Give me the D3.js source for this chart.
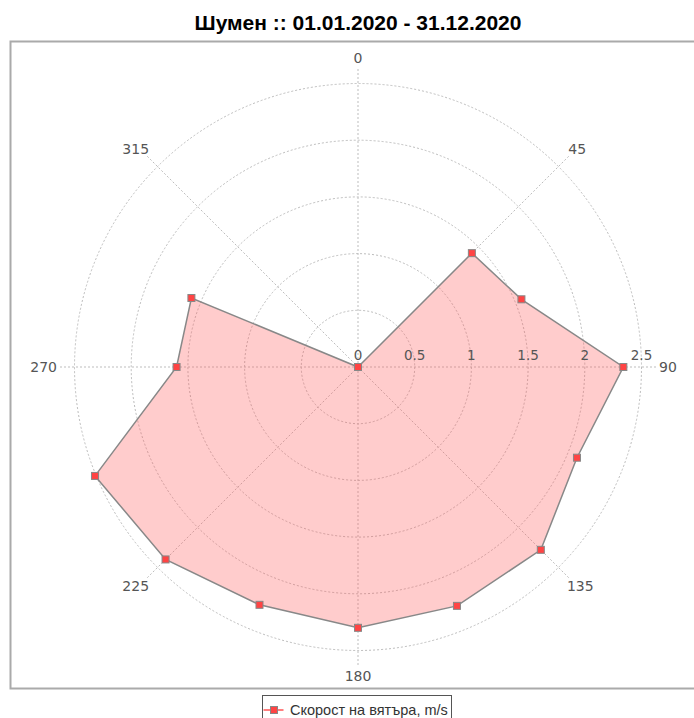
<!DOCTYPE html>
<html>
<head>
<meta charset="utf-8">
<script src="https://cdn.jsdelivr.net/npm/d3@7"></script>
<style>
  body { margin: 0; background: #fff; }
  svg { display: block; }
</style>
</head>
<body>
<svg id="rose" width="694" height="718"></svg>
<script>
// Wind speed by direction (polar plot)

let titleText = 'Шумен :: 01.01.2020 - 31.12.2020';
let seriesName = 'Скорост на вятъра, m/s';

// directions in degrees and average speed for each one
let directions = [0, 22.5, 45, 67.5, 90, 112.5, 135, 157.5, 180, 202.5, 225, 247.5, 270, 292.5, 315, 337.5];
let speeds = [0, 0, 1.42, 1.56, 2.34, 2.09, 2.28, 2.28, 2.30, 2.27, 2.40, 2.51, 1.60, 1.59, 0, 0];

let radialTicks = [0, 0.5, 1, 1.5, 2, 2.5];
let angleTicks = [0, 45, 90, 135, 180, 225, 270, 315];

let w = 694;
let h = 718;
let cx = 358, cy = 367;
let outerR = 283.5;
let spokeLen = 300;

let svg = d3.select('#rose');

// title
svg.append('text')
  .attr('x', 358)
  .attr('y', 30)
  .attr('text-anchor', 'middle')
  .style('font-family', '"Liberation Sans", Arial, sans-serif')
  .style('font-weight', 'bold')
  .style('font-size', '21px')
  .style('fill', '#000')
  .text(titleText);

// plot frame
svg.append('rect')
  .attr('x', 10.5)
  .attr('y', 41.5)
  .attr('width', 700)
  .attr('height', 647)
  .attr('fill', '#fff')
  .attr('stroke', '#aaa')
  .attr('stroke-width', 2);

let rScale = d3.scaleLinear()
  .domain([0, 2.5])
  .range([0, outerR]);

let aScale = d3.scaleLinear()
  .domain([0, 360])
  .range([0, 2 * Math.PI]);

let g = svg.append('g')
  .attr('transform', `translate(${cx}, ${cy})`);

// rings
g.selectAll('circle.ring')
  .data(radialTicks.filter((d) => d > 0))
  .enter()
  .append('circle')
  .attr('class', 'ring')
  .attr('r', (d) => rScale(d))
  .attr('fill', 'none')
  .attr('stroke', '#bdbdbd')
  .attr('stroke-width', 1)
  .attr('stroke-dasharray', '2,2');

// spokes
g.selectAll('line.spoke')
  .data(angleTicks)
  .enter()
  .append('line')
  .attr('class', 'spoke')
  .attr('x1', 0)
  .attr('y1', 0)
  .attr('x2', (d) => Math.sin(aScale(d)) * spokeLen)
  .attr('y2', (d) => -Math.cos(aScale(d)) * spokeLen)
  .attr('stroke', '#bdbdbd')
  .attr('stroke-width', 1)
  .attr('stroke-dasharray', '2,2');

// angle labels, pushed out by half of their box
let angleLabels = g.selectAll('text.angle')
  .data(angleTicks)
  .enter()
  .append('text')
  .attr('class', 'angle')
  .attr('text-anchor', 'middle')
  .attr('dy', '0.36em')
  .style('font-family', '"DejaVu Sans", Verdana, sans-serif')
  .style('font-size', '14px')
  .style('fill', '#555')
  .text((d) => d);

angleLabels.each(function(d) {
  let bb = this.getBBox();
  let s = Math.sin(aScale(d)), c = Math.cos(aScale(d));
  let x = s * spokeLen + s * (bb.width / 2 + 1);
  let y = -c * spokeLen - c * (bb.height / 2 + 1);
  d3.select(this).attr('x', x).attr('y', y);
});

// series polygon
let points = directions.map((d, i) => ({ dir: d, speed: speeds[i] }));

let radial = d3.lineRadial()
  .angle((d) => aScale(d.dir))
  .radius((d) => rScale(d.speed))
  .curve(d3.curveLinearClosed);

g.append('path')
  .datum(points)
  .attr('d', radial)
  .attr('fill', '#ff5555')
  .attr('fill-opacity', 0.3)
  .attr('stroke', 'none');

g.append('path')
  .datum(points)
  .attr('d', radial)
  .attr('fill', 'none')
  .attr('stroke', '#888')
  .attr('stroke-width', 1.5);

// markers
let ms = 7;
g.selectAll('rect.marker')
  .data(points)
  .enter()
  .append('rect')
  .attr('class', 'marker')
  .attr('x', (d) => Math.sin(aScale(d.dir)) * rScale(d.speed) - ms / 2)
  .attr('y', (d) => -Math.cos(aScale(d.dir)) * rScale(d.speed) - ms / 2)
  .attr('width', ms)
  .attr('height', ms)
  .attr('fill', '#f44')
  .attr('stroke', '#888')
  .attr('stroke-width', 1);

// radial tick labels along the 90 axis
g.selectAll('text.rtick')
  .data(radialTicks)
  .enter()
  .append('text')
  .attr('class', 'rtick')
  .attr('x', (d) => rScale(d))
  .attr('y', -7)
  .attr('text-anchor', 'middle')
  .style('font-family', '"DejaVu Sans", Verdana, sans-serif')
  .style('font-size', '13.5px')
  .style('fill', '#555')
  .text((d) => d);

// legend
let legend = svg.append('g')
  .attr('transform', 'translate(262.5, 695.5)');

legend.append('rect')
  .attr('width', 189)
  .attr('height', 30)
  .attr('fill', '#fff')
  .attr('stroke', '#555')
  .attr('stroke-width', 1);

legend.append('line')
  .attr('x1', 1)
  .attr('x2', 21)
  .attr('y1', 14.5)
  .attr('y2', 14.5)
  .attr('stroke', '#f55')
  .attr('stroke-width', 1.5);

legend.append('rect')
  .attr('x', 11.5 - ms / 2)
  .attr('y', 14.5 - ms / 2)
  .attr('width', ms)
  .attr('height', ms)
  .attr('fill', '#f44')
  .attr('stroke', '#888')
  .attr('stroke-width', 1);

legend.append('text')
  .attr('x', 27.5)
  .attr('y', 19.5)
  .style('font-family', '"Liberation Sans", Arial, sans-serif')
  .style('font-size', '14.5px')
  .style('fill', '#333')
  .text(seriesName);
</script>
</body>
</html>
